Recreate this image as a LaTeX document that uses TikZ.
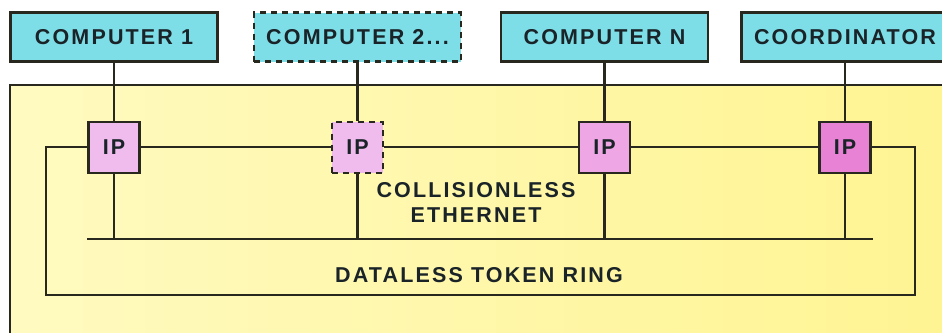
\documentclass[tikz,border=0pt]{standalone}
\usepackage{fontspec}
\newfontfamily\diagfont{Liberation Sans}[LetterSpace=10]
\usetikzlibrary{positioning, backgrounds}
\definecolor{compcyan}{RGB}{126,222,232}
\definecolor{ippale}{RGB}{240,188,238}
\definecolor{ipmid}{RGB}{238,166,228}
\definecolor{ipdeep}{RGB}{232,130,212}
\definecolor{panelleft}{RGB}{255,250,192}
\definecolor{panelright}{RGB}{255,244,146}
\definecolor{inkline}{RGB}{40,40,30}
\definecolor{inktext}{RGB}{25,35,40}
\tikzset{
  computer/.style={rectangle, draw=inkline, line width=2.2pt, fill=compcyan,
    minimum width=207pt, minimum height=49pt, text=inktext,
    font=\diagfont\fontsize{21.5}{24}\selectfont\bfseries},
  ghost/.style={dash pattern=on 6pt off 5pt},
  ip/.style={rectangle, draw=inkline, line width=2.2pt, fill=ippale,
    minimum size=51pt, inner sep=0pt, text=inktext,
    font=\diagfont\fontsize{21.5}{24}\selectfont\bfseries},
  wire/.style={draw=inkline, line width=2.2pt},
  netlabel/.style={align=center, text=inktext,
    font=\diagfont\fontsize{21.5}{25}\selectfont\bfseries},
}
\begin{document}
\begin{tikzpicture}[x=1pt, y=-1pt]
  \useasboundingbox (0,0) rectangle (942,332);
  % Yellow panel
  \shade[left color=panelleft, right color=panelright] (10,85) rectangle (960,345);
  \draw[wire] (10,345) -- (10,85) -- (960,85);

  % Computers
  \node[computer] (comp1) at (114,37) {COMPUTER 1};
  \node[computer, ghost] (comp2) at (357.5,37) {COMPUTER 2...};
  \node[computer] (compn) at (604.5,37) {COMPUTER N};
  \node[computer] (coord) at (845,37) {COORDINATOR};

  % Interface processors
  \node[ip, below=58pt of comp1] (ip1) {IP};
  \node[ip, ghost, below=58pt of comp2] (ip2) {IP};
  \node[ip, fill=ipmid, below=58pt of compn] (ipn) {IP};
  \node[ip, fill=ipdeep, below=58pt of coord] (ipc) {IP};

  % Labels
  \node[netlabel] (ether) at (476,202) {COLLISIONLESS\\ETHERNET};
  \node[netlabel] (token) at (479,275) {DATALESS TOKEN RING};

  \coordinate (ringSW) at (46,295);
  \coordinate (ringSE) at (915,295);
  \coordinate (busW) at (87,239);
  \coordinate (busE) at (873,239);

  % Connections
  \draw[wire] (comp1) -- (ip1);
  \draw[wire] (comp2) -- (ip2);
  \draw[wire] (compn) -- (ipn);
  \draw[wire] (coord) -- (ipc);

  \draw[wire] (ip1) -- (ip2) -- (ipn) -- (ipc);
  \draw[wire] (ip1.west) -| (ringSW) -- (ringSE) |- (ipc.east);

  \draw[wire] (busW) -- (busE);
  \draw[wire] (ip1) -- (ip1 |- busW);
  \draw[wire] (ip2) -- (ip2 |- busW);
  \draw[wire] (ipn) -- (ipn |- busW);
  \draw[wire] (ipc) -- (ipc |- busW);
\end{tikzpicture}
\end{document}
